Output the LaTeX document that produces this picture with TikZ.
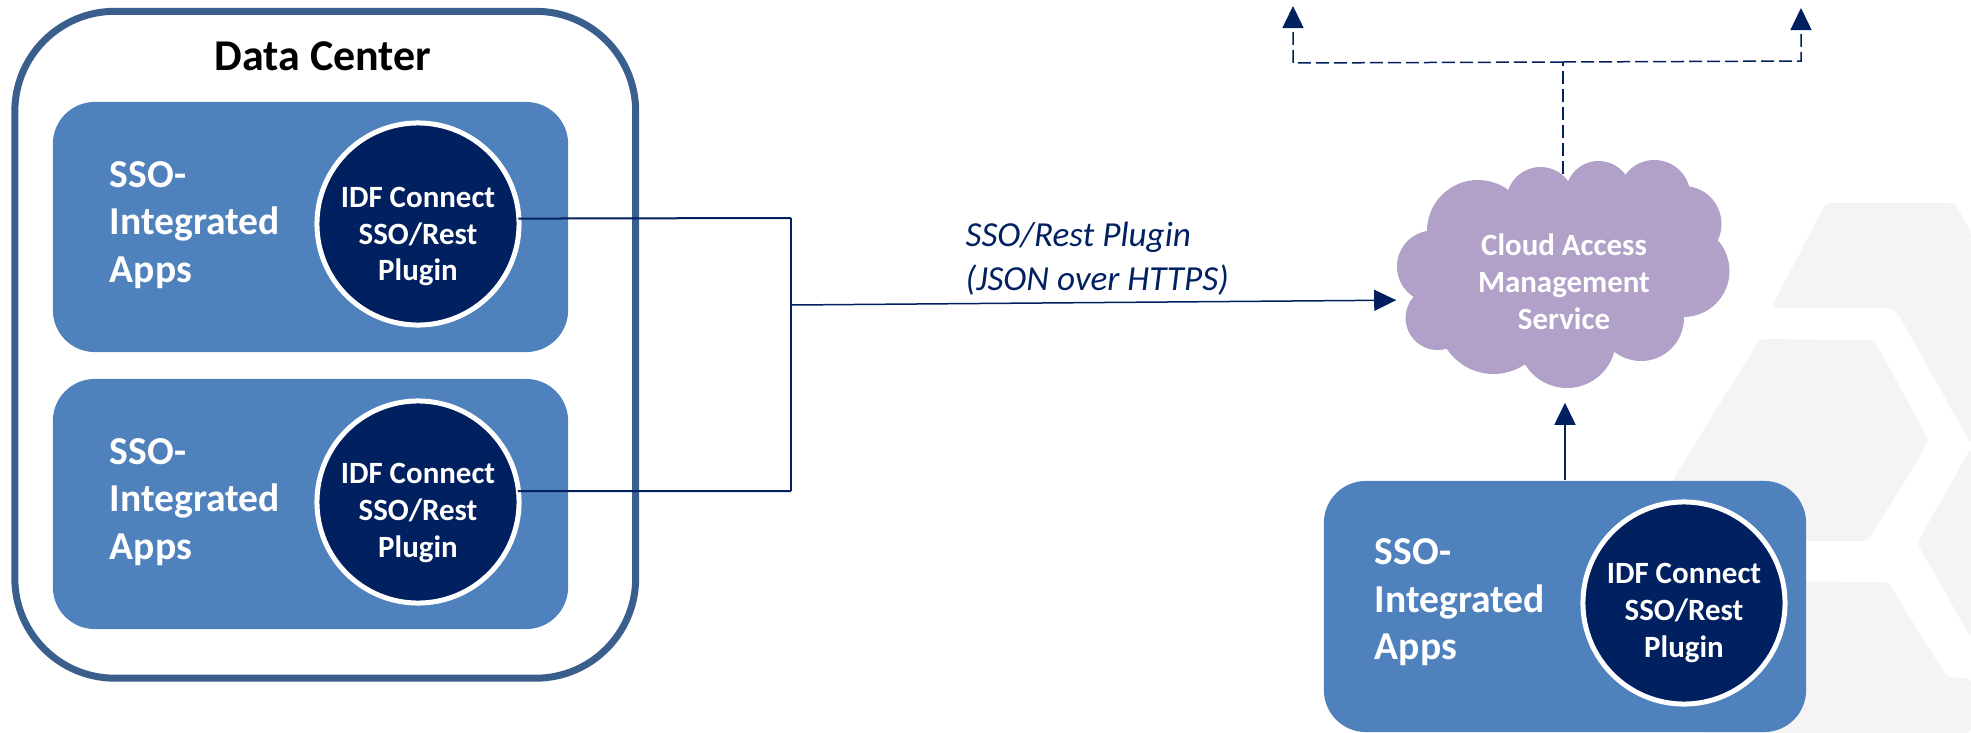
\documentclass[tikz,border=0pt]{standalone}
\usepackage{fontspec}
\setmainfont{Carlito}
\usetikzlibrary{arrows.meta}
\definecolor{navylink}{HTML}{002060}
\definecolor{appblue}{HTML}{4F81BD}
\definecolor{dcblue}{HTML}{3A5F8D}
\definecolor{cloudlilac}{HTML}{B1A0C7}
\definecolor{markgray}{HTML}{F4F4F4}
\tikzset{
  appbox/.style={rectangle,rounded corners=4.2mm,fill=appblue,minimum width=4.82cm,minimum height=2.5cm,inner sep=0pt},
  plugincircle/.style={circle,fill=navylink,draw=white,line width=0.05cm,minimum size=2.02cm,inner sep=0pt},
  smalltext/.style={text=white,align=center,inner sep=0pt,font=\fontsize{8.8}{10.5}\selectfont\bfseries},
  appname/.style={anchor=west,text=white,align=left,inner sep=0pt,font=\fontsize{11.25}{13.5}\selectfont\bfseries},
  link/.style={draw=navylink,line width=0.02cm},
  thinlink/.style={draw=navylink,line width=0.015cm},
  dashlink/.style={thinlink,dash pattern=on 0.13cm off 0.05cm},
  tip/.style={-{Triangle[length=0.22cm,width=0.21cm]},navylink},
}
\begin{document}
\begin{tikzpicture}[x=0.01cm,y=-0.01cm]
      \useasboundingbox (0,0) rectangle (1971,733);
      \begin{scope}[markgray,rounded corners=0.5mm]
        \fill (1826,203) -- (1955,203) -- (1971,233) -- (1971,444) -- (1897,312) -- (1888,308) -- (1771,308) -- cycle;
        \fill (1971,448) -- (1917,543) -- (1971,638) -- cycle;
        \fill (1760,339) -- (1872,340) -- (1876,343) -- (1929,441) -- (1868,541) -- (1700,541) -- (1700,481) -- (1672,481) -- cycle;
        \fill (1700,581) -- (1888,582) -- (1945,674) -- (1952,678) -- (1971,678) -- (1971,733) -- (1700,733) -- cycle;
      \end{scope}
      \node[draw=dcblue,line width=0.07cm,rounded corners=1cm,minimum width=6.205cm,minimum height=6.665cm,inner sep=0pt] (dcbox) at (325.25,344.75) {};
      \node[font=\fontsize{12.5}{15}\selectfont\bfseries,inner sep=0pt] (dctitle) at (323,56) {Data Center};
      \coordinate (busa) at (791,218);
      \coordinate (busb) at (791,491);
      \coordinate (busmid) at (791,305);
      \foreach \cx/\cy/\r in {1540.5/201/34,1598.6/194/33,1654.4/196/36,1683.5/224/38,1683.5/271/46,1641/318/43,
        1567/339/49,1493.5/318/56,1437.6/318/32,1433/266.5/36,1478/231/51}
        \fill[cloudlilac] (\cx,\cy) circle[radius=\r];
      \fill[cloudlilac] (1470,210) rectangle (1650,330);
      \node[minimum width=3.32cm,minimum height=2.27cm,inner sep=0pt] (cloudsvc) at (1563,288.5) {};
      \node[smalltext] (cloudtext) at (1564,282) {Cloud Access\\Management\\Service};
      \foreach \n/\ybox/\ycirc/\ytext/\ang in {a/227/224/236.5/3.3,b/504/502/512.7/6.1} {
        \node[appbox,minimum width=5.15cm] (app\n) at (310.5,\ybox) {};
        \node[plugincircle] (plugin\n) at (418,\ycirc) {};
        \node[smalltext] (plugintext\n) at (418,\ytext) {IDF Connect\\SSO/Rest\\Plugin};
        \node[appname] (name\n) at ([xshift=0.57cm,yshift=0.02cm]app\n.west) {SSO-\\Integrated\\Apps};
        \draw[link,shorten <=-0.03cm] (plugin\n.\ang) -- (bus\n);
      }
      \node[appbox,minimum height=2.51cm] (appc) at (1565,606.5) {};
      \node[plugincircle] (pluginc) at (1684,603) {};
      \node[smalltext] (plugintextc) at (1684,613) {IDF Connect\\SSO/Rest\\Plugin};
      \node[appname] (namec) at ([xshift=0.51cm,yshift=0.04cm]appc.west) {SSO-\\Integrated\\Apps};
      \draw[thinlink] (busa) -- (busb);
      \draw[thinlink,tip] (busmid) -- (cloudsvc.184.3);
      \draw[thinlink,tip] (appc.north) -- (appc.north |- cloudsvc.south);
      \node[anchor=west,text=navylink,align=left,inner sep=0pt,font=\fontsize{10}{12.5}\selectfont\itshape] (pluginlabel) at (965,258.5) {SSO/Rest Plugin\\(JSON over HTTPS)};
      \coordinate (dashjoin) at (1563,62);
      \coordinate (dashleft) at (1293,63);
      \coordinate (dashright) at (1801,61);
      \coordinate (upleft) at (1293,6);
      \coordinate (upright) at (1801,8);
      \draw[dashlink] (cloudsvc.north) -- (dashjoin);
      \draw[dashlink,tip] (dashjoin) -- (dashleft) -- (upleft);
      \draw[dashlink,tip] (dashjoin) -- (dashright) -- (upright);
    \end{tikzpicture}
\end{document}
